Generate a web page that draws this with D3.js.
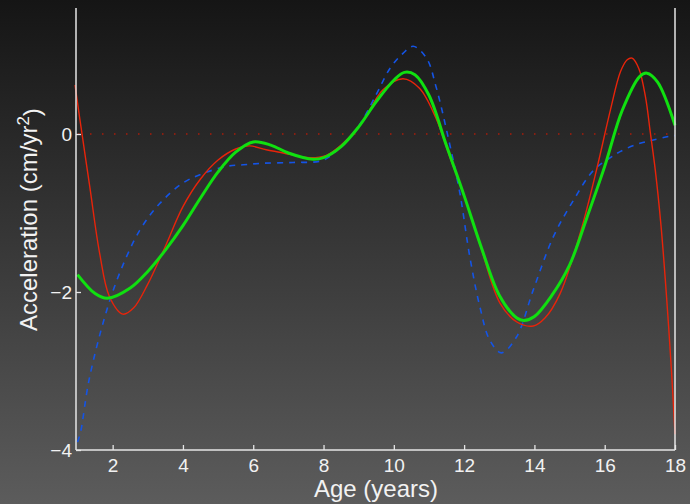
<html>
<head>
<meta charset="utf-8">
<script src="https://d3js.org/d3.v7.min.js"></script>
<style>
  body { margin: 0; background: #222; }
  svg text { font-family: "Liberation Sans", Arial, sans-serif; fill: #f2f2f2; }
</style>
</head>
<body>
<script>
// fitted acceleration curves
var redAge = [0.93, 1.07, 1.35, 1.63, 1.91, 2.29, 2.6, 3, 3.5, 4, 4.5, 5, 5.5, 5.9, 6.37, 6.85, 7.6, 8.08, 8.55, 9.1, 9.69, 10.26, 10.73, 11.2, 11.6, 12, 12.5, 13.02, 13.5, 13.97, 14.3, 14.73, 15.3, 15.78, 16.16, 16.45, 16.64, 16.78, 16.97, 17.16, 17.3, 17.44, 17.6, 17.75, 17.9, 18];
var redVal = [0.62, 0.18, -0.67, -1.51, -2.06, -2.28, -2.20, -1.90, -1.42, -0.92, -0.57, -0.33, -0.19, -0.15, -0.20, -0.24, -0.30, -0.27, -0.12, 0.15, 0.56, 0.70, 0.58, 0.20, -0.30, -0.78, -1.47, -2.14, -2.38, -2.43, -2.33, -2.02, -1.26, -0.43, 0.30, 0.79, 0.94, 0.96, 0.83, 0.47, 0.01, -0.46, -1.15, -2.0, -3.0, -3.8];

var greenAge = [1, 1.5, 1.85, 2.5, 3, 3.5, 4, 4.5, 5, 5.5, 6, 6.5, 7, 7.7, 8, 8.5, 9, 9.5, 10, 10.3, 10.6, 11, 11.5, 12, 12.5, 13, 13.5, 13.7, 14, 14.5, 15, 15.5, 16, 16.5, 17, 17.2, 17.5, 18];
var greenVal = [-1.78, -2.02, -2.08, -1.95, -1.74, -1.47, -1.16, -0.81, -0.48, -0.23, -0.10, -0.14, -0.24, -0.32, -0.30, -0.16, 0.09, 0.41, 0.68, 0.78, 0.75, 0.49, -0.15, -0.78, -1.45, -2.04, -2.33, -2.36, -2.31, -2.04, -1.66, -1.05, -0.41, 0.30, 0.73, 0.77, 0.66, 0.11];

var blueAge = [1, 1.08, 1.33, 1.78, 2.2, 2.77, 3.34, 4, 4.57, 5.24, 5.71, 6.28, 7.13, 8, 8.5, 9, 9.5, 9.89, 10.26, 10.55, 10.93, 11.2, 11.54, 11.88, 12.16, 12.45, 12.73, 13.06, 13.49, 13.97, 14.54, 15.11, 15.68, 16.16, 16.45, 16.92, 17.35, 17.82, 18];
var blueVal = [-3.9, -3.79, -3.11, -2.31, -1.76, -1.22, -0.88, -0.62, -0.50, -0.41, -0.39, -0.37, -0.36, -0.33, -0.15, 0.10, 0.50, 0.83, 1.02, 1.11, 0.96, 0.60, -0.03, -0.75, -1.55, -2.19, -2.61, -2.77, -2.57, -1.97, -1.30, -0.84, -0.46, -0.30, -0.22, -0.13, -0.08, -0.03, -0.02];

var xTicks = [2, 4, 6, 8, 10, 12, 14, 16, 18];
var yTicks = [-4, -2, 0];

var w = 690, h = 504;

var svg = d3.select("body").append("svg")
    .attr("width", w)
    .attr("height", h);

var grad = svg.append("defs").append("linearGradient")
    .attr("id", "bg")
    .attr("x1", 0).attr("y1", 0).attr("x2", 0).attr("y2", 1);
grad.append("stop").attr("offset", "0%").attr("stop-color", "#151515");
grad.append("stop").attr("offset", "100%").attr("stop-color", "#5c5c5c");

svg.append("rect").attr("width", w).attr("height", h).attr("fill", "url(#bg)");

var x = d3.scaleLinear().domain([1, 18]).range([77.5, 675]);
var y = d3.scaleLinear().domain([-4, 1.6]).range([450, 7.6]);

/* zero line */
svg.append("line")
    .attr("x1", 78).attr("x2", 674)
    .attr("y1", y(0)).attr("y2", y(0))
    .attr("stroke", "#a81c0a")
    .attr("stroke-width", 1.5)
    .attr("stroke-dasharray", "1.5,10.5");

var line = d3.line()
    .x(function(d) { return x(d[0]); })
    .y(function(d) { return y(d[1]); })
    .curve(d3.curveCatmullRom.alpha(0.5));

function pts(a, v) { return a.map(function(t, i) { return [t, v[i]]; }); }

var plot = svg.append("g");

plot.append("path")
    .datum(pts(blueAge, blueVal))
    .attr("d", line)
    .attr("fill", "none")
    .attr("stroke", "#1454e6")
    .attr("stroke-width", 1.6)
    .attr("stroke-dasharray", "6,6");

plot.append("path")
    .datum(pts(redAge, redVal))
    .attr("d", line)
    .attr("fill", "none")
    .attr("stroke", "#e8240a")
    .attr("stroke-width", 1.4);

plot.append("path")
    .datum(pts(greenAge, greenVal))
    .attr("d", line)
    .attr("fill", "none")
    .attr("stroke", "#10e010")
    .attr("stroke-width", 3);

/* axes */
var xAxis = d3.axisBottom(x).tickValues(xTicks).tickSizeInner(-5).tickSizeOuter(0).tickPadding(9);
var gx = svg.append("g").attr("transform", "translate(0,450)").call(xAxis);

var yAxis = d3.axisLeft(y).tickValues(yTicks).tickFormat(d3.format("d"))
    .tickSizeInner(-5).tickSizeOuter(0).tickPadding(4);
var gy = svg.append("g").attr("transform", "translate(76,0)").call(yAxis);

[gx, gy].forEach(function(g) {
    g.select(".domain").remove();
    g.selectAll(".tick line").attr("stroke", "#e6e6e6").attr("stroke-width", 1.3);
    g.selectAll(".tick text").attr("fill", "#f2f2f2").style("font-size", "19px")
        .style("font-family", "'Liberation Sans', Arial, sans-serif");
});
gx.selectAll(".tick text").attr("dy", "0.71em");

/* frame lines: left, right, bottom */
svg.append("line").attr("x1", 76).attr("x2", 76).attr("y1", 8).attr("y2", 450)
    .attr("stroke", "#e6e6e6").attr("stroke-width", 1.5);
svg.append("line").attr("x1", 675).attr("x2", 675).attr("y1", 8).attr("y2", 450)
    .attr("stroke", "#e6e6e6").attr("stroke-width", 1.5);
svg.append("line").attr("x1", 76).attr("x2", 675).attr("y1", 450).attr("y2", 450)
    .attr("stroke", "#e6e6e6").attr("stroke-width", 1.5);

/* titles */
svg.append("text")
    .attr("x", 376)
    .attr("y", 497)
    .attr("text-anchor", "middle")
    .style("font-size", "24px")
    .text("Age (years)");

var yt = svg.append("text")
    .attr("transform", "translate(37,331) rotate(-90)")
    .attr("text-anchor", "start")
    .style("font-size", "24px");
yt.append("tspan").text("Acceleration (cm/yr");
yt.append("tspan").attr("dy", "-0.45em").style("font-size", "17px").text("2");
yt.append("tspan").attr("dy", "0.45em").text(")");
</script>
</body>
</html>
